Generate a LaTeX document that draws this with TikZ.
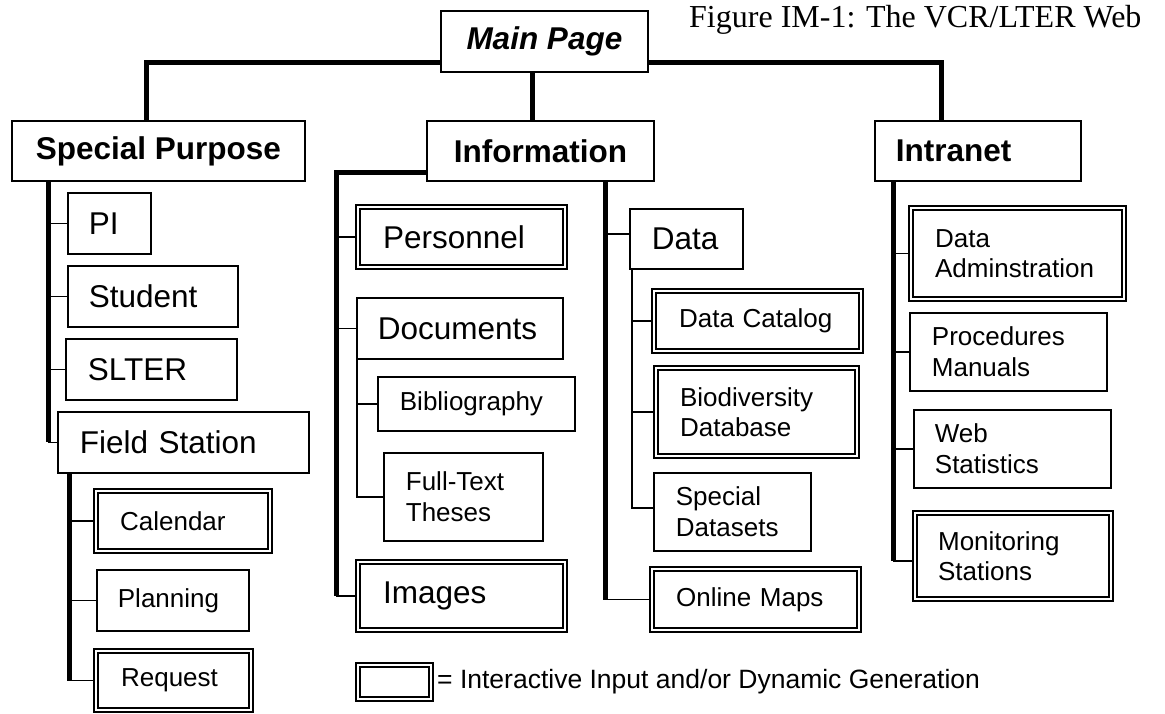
\documentclass[tikz,border=0pt]{standalone}
\usepackage{fontspec}
\setmainfont{Liberation Sans}
\newfontfamily\titleserif{Liberation Serif}
\usetikzlibrary{calc}
\newcommand\bigf{\fontsize{31.5}{36}\selectfont}
\newcommand\bigbf{\fontsize{31.5}{36}\selectfont\bfseries}
\newcommand\bigbfi{\fontsize{31.5}{36}\selectfont\bfseries\itshape}
\newcommand\smf{\fontsize{26}{30.5}\selectfont}
\tikzset{
  sbox/.style={draw, line width=1.8pt, anchor=north west, inner ysep=0pt, align=left, fill=white},
  dbox/.style={draw, line width=2.2pt, double=white, double distance=2.2pt, anchor=north west, inner ysep=0pt, align=left},
  thk/.style={line width=5pt},
  thn/.style={line width=1.5pt},
}
\begin{document}
\begin{tikzpicture}[x=1pt,y=-1pt]
\useasboundingbox (0,0) rectangle (1165,713);

% title
\node[anchor=base west, font=\titleserif\fontsize{32}{36}\selectfont, inner sep=0pt] (title) at (689,27) {Figure IM-1: The VCR/LTER Web};

% top level
\node[sbox, font=\bigbfi, align=center, inner xsep=0pt, minimum width=207pt, minimum height=61pt] (mainp) at (440,10) {Main Page};
\node[sbox, font=\bigbf, align=center, inner xsep=0pt, minimum width=293pt, minimum height=60pt] (sp) at (11,120) {Special Purpose};
\node[sbox, font=\bigbf, align=center, inner xsep=0pt, minimum width=227pt, minimum height=60pt] (info) at (426,120) {Information};
\node[sbox, font=\bigbf, inner xsep=21pt, text width=164pt, minimum width=206pt, minimum height=60pt] (intra) at (874,120) {Intranet};

% special purpose
\node[sbox, font=\bigf, inner xsep=21pt, text width=41pt, minimum width=83pt, minimum height=61pt] (pi) at (67,192) {PI};
\node[sbox, font=\bigf, inner xsep=21pt, text width=128pt, minimum width=170pt, minimum height=61pt] (student) at (67,265) {Student};
\node[sbox, font=\bigf, inner xsep=22pt, text width=127pt, minimum width=171pt, minimum height=61pt] (slter) at (65,338) {SLTER};
\node[sbox, font=\bigf, inner xsep=22pt, text width=207pt, minimum width=251pt, minimum height=61pt] (field) at (57,411) {Field Station};
\node[dbox, font=\smf, inner xsep=24pt, text width=126pt, minimum width=174pt, minimum height=60pt] (calendar) at (95,490) {Calendar};
\node[sbox, font=\smf, inner xsep=21pt, text width=110pt, minimum width=152pt, minimum height=61pt] (planning) at (96,569) {Planning};
\node[dbox, font=\smf, inner xsep=25pt, text width=105pt, minimum width=155pt, minimum height=59pt] (request) at (95,650) {Request};

% information
\node[dbox, font=\bigf, inner xsep=25pt, text width=157pt, minimum width=207pt, minimum height=60pt] (personnel) at (357,206) {Personnel};
\node[sbox, font=\bigf, inner xsep=21pt, text width=164pt, minimum width=206pt, minimum height=61pt] (documents) at (356,297) {Documents};
\node[sbox, font=\smf, inner xsep=22pt, text width=153pt, minimum width=197pt, minimum height=54pt] (biblio) at (377,376) {Bibliography};
\node[sbox, font=\smf, inner xsep=22pt, text width=115pt, minimum width=159pt, minimum height=88pt] (fulltext) at (383,452) {Full-Text\\Theses};
\node[dbox, font=\bigf, inner xsep=25pt, text width=157pt, minimum width=207pt, minimum height=68pt] (images) at (357,561) {Images};

\node[sbox, font=\bigf, inner xsep=22pt, text width=69pt, minimum width=113pt, minimum height=60pt] (data) at (629,208) {Data};
\node[dbox, font=\smf, inner xsep=25pt, text width=157pt, minimum width=207pt, minimum height=60pt] (datacat) at (653,290) {Data Catalog};
\node[dbox, font=\smf, inner xsep=24pt, text width=153pt, minimum width=201pt, minimum height=88pt] (biodiv) at (655,367) {Biodiversity\\Database};
\node[sbox, font=\smf, inner xsep=22pt, text width=113pt, minimum width=157pt, minimum height=78pt] (specialds) at (653,472) {Special\\Datasets};
\node[dbox, font=\smf, inner xsep=24pt, text width=159pt, minimum width=207pt, minimum height=61pt] (onlinemaps) at (651,568) {Online Maps};

% intranet
\node[dbox, font=\smf, inner xsep=24pt, text width=165pt, minimum width=213pt, minimum height=91pt] (dataadm) at (910,207) {Data\\Adminstration};
\node[sbox, font=\smf, inner xsep=22pt, text width=153pt, minimum width=197pt, minimum height=78pt] (procedures) at (909,312) {Procedures\\Manuals};
\node[sbox, font=\smf, inner xsep=21pt, text width=155pt, minimum width=197pt, minimum height=78pt] (webstat) at (913,409) {Web\\Statistics};
\node[dbox, font=\smf, inner xsep=23pt, text width=150pt, minimum width=196pt, minimum height=86pt] (monitoring) at (914,512) {Monitoring\\Stations};

% legend
\node[dbox, inner sep=0pt, minimum width=73pt, minimum height=34pt] (legendbox) at (357,664) {};
\node[anchor=base west, font=\fontsize{26.5}{30}\selectfont, inner sep=0pt] (legendtext) at (437,688) {= Interactive Input and/or Dynamic Generation};

% main connectors
\coordinate (ml) at ($(mainp.south west)+(0,-10)$);
\coordinate (mr) at ($(mainp.south east)+(0,-10)$);
\coordinate (spin) at ($(sp.north)+(-11.5,0)$);
\coordinate (intin) at ($(intra.north)+(-36,0)$);
\coordinate (m2i) at ($(mainp.south)+(-11.5,0)$);
\draw[thk] (ml) -| (spin);
\draw[thk] (mr) -| (intin);
\draw[thk] (m2i) -- (m2i |- info.north);

% special purpose subtree
\coordinate (spt) at ($(sp.south west)+(37,0)$);
\draw[thk] (spt) -- (spt |- field.west);
\draw[thn] (spt |- field.west) -- (field.west);
\draw[thn] (spt |- pi.west) -- (pi.west);
\draw[thn] (spt |- student.west) -- (student.west);
\draw[thn] (spt |- slter.west) -- (slter.west);

% field station subtree
\coordinate (fst) at ($(field.south west)+(12,0)$);
\draw[thk] (fst) -- (fst |- request.west);
\draw[thn] (fst |- request.west) -- (request.west);
\draw[thn] (fst |- calendar.west) -- (calendar.west);
\draw[thn] (fst |- planning.west) -- (planning.west);

% information subtree (left)
\coordinate (ib) at ($(info.south west)+(0,-9)$);
\coordinate (itr) at ($(info.south west)+(-90,-9)$);
\draw[thk] (ib) -- (itr) -- (itr |- images.west);
\draw[thn] (itr |- images.west) -- (images.west);
\draw[thn] (itr |- personnel.west) -- (personnel.west);
\draw[thn] (itr |- documents.west) -- (documents.west);

% documents subtree
\coordinate (dct) at ($(documents.south west)+(1,0)$);
\draw[thn] (dct) -- (dct |- fulltext.west) -- (fulltext.west);
\draw[thn] (dct |- biblio.west) -- (biblio.west);

% information subtree (data)
\coordinate (dtr) at ($(info.south)+(65.5,0)$);
\draw[thk] (dtr) -- (dtr |- onlinemaps.west);
\draw[thn] (dtr |- onlinemaps.west) -- (onlinemaps.west);
\draw[thn] ([yshift=5pt]dtr |- data.west) -- ([yshift=5pt]data.west);

% data subtree
\coordinate (dst) at ($(data.south west)+(3,0)$);
\draw[thn] (dst) -- ([yshift=4pt]dst |- specialds.west) -- ([yshift=4pt]specialds.west);
\draw[thn] (dst |- datacat.west) -- (datacat.west);
\draw[thn] (dst |- biodiv.west) -- (biodiv.west);

% intranet subtree
\coordinate (itt) at ($(intra.south west)+(19,0)$);
\draw[thk] (itt) -- ([yshift=-5pt]itt |- monitoring.west);
\draw[thn] ([yshift=-5pt]itt |- monitoring.west) -- ([yshift=-5pt]monitoring.west);
\draw[thn] (itt |- dataadm.west) -- (dataadm.west);
\draw[thn] (itt |- procedures.west) -- (procedures.west);
\draw[thn] (itt |- webstat.west) -- (webstat.west);
\end{tikzpicture}
\end{document}
